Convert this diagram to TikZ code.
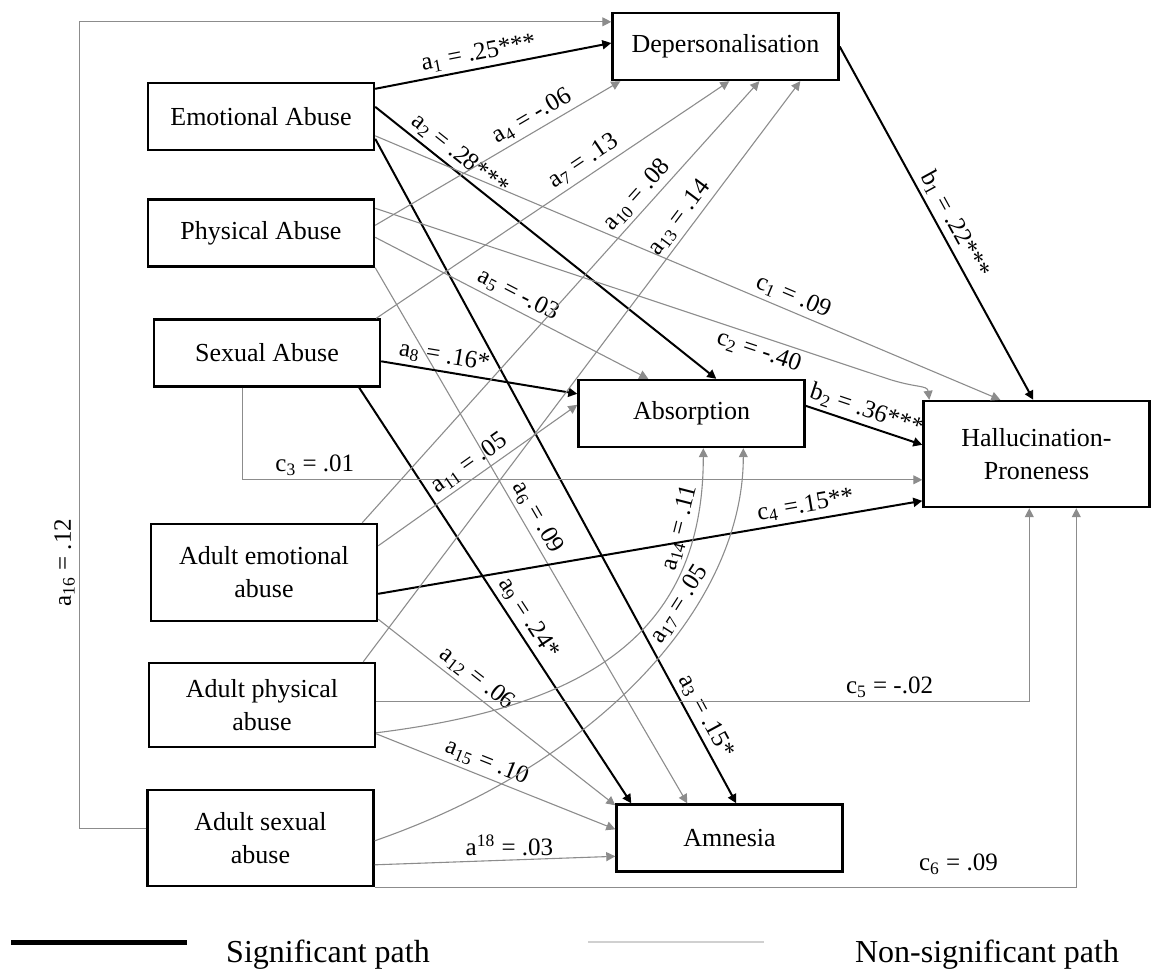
\documentclass[tikz,border=0pt]{standalone}
\usepackage{fontspec}
\setmainfont{Liberation Serif}
\usepackage{xcolor}
\definecolor{cPath}{HTML}{8C8C8C}
\definecolor{cKey} {HTML}{D0D0D0}
\usepackage{tikz}
\usetikzlibrary{arrows.meta, calc}
\tikzset{
  blk/.style  = {rectangle, draw=black, line width=1.2pt,
                 minimum width=#1, minimum height=33.5pt,
                 align=center, inner sep=2pt,
                 font=\fontsize{13}{16.5}\selectfont},
  blk/.default = 113pt,
  sarr/.style = {-{Triangle[length=4.5pt,width=4.5pt]}, line width=1pt, black},
  narr/.style = {-{Triangle[length=4.5pt,width=4.5pt]}, line width=0.55pt, cPath},
  lab/.style  = {font=\fontsize{12.5}{14}\selectfont, text=black, inner sep=2pt},
  key/.style  = {font=\fontsize{16}{19}\selectfont},
}

\begin{document}
\begin{tikzpicture}[x=0.5pt, y=-0.5pt]
  \useasboundingbox (0,0) rectangle (1151,971);

  % predictors
  \node[blk] (emo)  at (261,116.5) {Emotional Abuse};
  \node[blk] (phy)  at (261,233)   {Physical Abuse};
  \node[blk] (sex)  at (267,353)   {Sexual Abuse};
  \node[blk, minimum height=48.5pt] (aemo) at (264,572.5) {Adult emotional\\abuse};
  \node[blk, minimum height=42pt]   (aphy) at (262,705)   {Adult physical\\abuse};
  \node[blk, minimum height=48pt]   (asex) at (260.5,838) {Adult sexual\\abuse};

  % mediators and outcome
  \node[blk] (dep) at (725.5,46.5) {Depersonalisation};
  \node[blk] (abs) at (691.5,413.5) {Absorption};
  \node[blk] (amn) at (729.5,838)  {Amnesia};
  \node[blk, minimum height=53pt] (hal) at (1036.5,454) {Hallucination-\\Proneness};

  % emotional abuse
  \draw[sarr] ($(emo.north east)+(0,7)$) -- node[lab, sloped, above, pos=0.45]
        {a\textsubscript{1} = .25***} ($(dep.west)+(0,-3.5)$);
  \draw[sarr] ($(emo.north east)+(0,25)$) -- node[lab, sloped, above, pos=0.22]
        {a\textsubscript{2} = .28***} ($(abs.north west)+(139,0)$);
  \draw[sarr] ($(emo.north east)+(0,57)$) -- node[lab, sloped, above, pos=0.88]
        {a\textsubscript{3} = .15*} ($(amn.north west)+(121,0)$);
  \draw[narr] ($(emo.north east)+(0,54)$) -- node[lab, sloped, above, pos=0.66]
        {c\textsubscript{1} = .09} ($(hal.north west)+(78,0)$);

  % physical abuse
  \draw[narr] ($(phy.north east)+(0,27)$) -- node[lab, sloped, above, pos=0.67]
        {a\textsubscript{4} = -.06} ($(dep.south west)+(9,0)$);
  \draw[narr] ($(phy.north east)+(0,39)$) -- node[lab, sloped, above, pos=0.5]
        {a\textsubscript{5} = -.03} ($(abs.north west)+(71,0)$);
  \draw[narr] (phy.south east) -- node[lab, sloped, above, pos=0.48]
        {a\textsubscript{6} = .09} ($(amn.north west)+(72,0)$);
  \draw[narr] ($(phy.north east)+(0,10)$) -- node[lab, sloped, below, pos=0.76]
        {c\textsubscript{2} = -.40} ++(511,170)
        .. controls +(30,10) and +(-2,-15) .. ($(hal.north west)+(7,0)$);

  % sexual abuse
  \draw[narr] ($(sex.north east)+(-5,0)$) -- node[lab, sloped, above, pos=0.61]
        {a\textsubscript{7} = .13} ($(dep.south west)+(118,0)$);
  \draw[sarr] ($(sex.north east)+(0,43)$) -- node[lab, sloped, above, pos=0.31]
        {a\textsubscript{8} = .16*} ($(abs.north west)+(0,15)$);
  \draw[sarr] ($(sex.south east)+(-22,0)$) -- node[lab, sloped, above, pos=0.575]
        {a\textsubscript{9} = .24*} ($(amn.north west)+(16,0)$);
  \draw[narr] ($(sex.south west)+(90,0)$) |- node[lab, above, pos=0.553]
        {c\textsubscript{3} = .01} ($(hal.north west)+(0,80)$);

  % adult emotional abuse
  \draw[narr] ($(aemo.north east)+(-16,0)$) -- node[lab, sloped, above, pos=0.72]
        {a\textsubscript{10} = .08} ($(dep.south west)+(148,0)$);
  \draw[narr] ($(aemo.north east)+(0,23)$) -- node[lab, sloped, above, pos=0.5]
        {a\textsubscript{11} = .05} ($(abs.north west)+(0,26)$);
  \draw[narr] ($(aemo.south east)+(0,-3)$) -- node[lab, sloped, above, pos=0.38]
        {a\textsubscript{12} = .06} ($(amn.north west)+(0,2)$);
  \draw[sarr] ($(aemo.north east)+(0,71)$) -- node[lab, sloped, above, pos=0.79]
        {c\textsubscript{4} =.15**} ($(hal.north west)+(0,101)$);

  % adult physical abuse
  \draw[narr] ($(aphy.north east)+(-13,0)$) -- node[lab, sloped, above, pos=0.75]
        {a\textsubscript{13} = .14} ($(dep.south west)+(189,0)$);
  \draw[narr] ($(aphy.north east)+(0,71)$) .. controls +(200,-25) and +(0,193) ..
        node[lab, sloped, above, pos=0.84] {a\textsubscript{14} = .11}
        ($(abs.south west)+(126,0)$);
  \draw[narr] ($(aphy.north east)+(0,72)$) -- node[lab, sloped, above, pos=0.44]
        {a\textsubscript{15} = .10} ($(amn.north west)+(0,26)$);
  \draw[narr] ($(aphy.north east)+(0,40)$) -| node[lab, above, pos=0.393]
        {c\textsubscript{5} = -.02} ($(hal.south west)+(107,0)$);

  % adult sexual abuse
  \draw[narr] ($(asex.north west)+(0,40)$) -- ++(-67,0)
        -- node[lab, sloped, above, pos=0.33] {a\textsubscript{16} = .12} ++(0,-807)
        -- ($(dep.north west)+(0,10)$);
  \draw[narr] ($(asex.north east)+(0,52)$) .. controls +(230,-80) and +(0,153) ..
        node[lab, sloped, above=0pt, pos=0.64] {a\textsubscript{17} = .05}
        ($(abs.south west)+(166,0)$);
  \draw[narr] ($(asex.north east)+(0,76)$) -- node[lab, above, pos=0.56]
        {a\textsuperscript{18} = .03} ($(amn.north west)+(0,53)$);
  \draw[narr] (asex.south east) -| node[lab, above=4pt, pos=0.416]
        {c\textsubscript{6} = .09} ($(hal.south west)+(154,0)$);

  % mediators to outcome
  \draw[sarr] (dep.east) -- node[lab, sloped, above, pos=0.525]
        {b\textsubscript{1} = .22***} ($(hal.north west)+(111,0)$);
  \draw[sarr] ($(abs.north east)+(0,27)$) -- node[lab, sloped, above, pos=0.48]
        {b\textsubscript{2} = .36***} ($(hal.north west)+(0,45)$);

  % key
  \draw[line width=2.5pt] (11,942) -- (187,942);
  \node[key] (ksig) at (328,955) {Significant path};
  \draw[cKey, line width=0.6pt] (588,942) -- (764,942);
  \node[key] (knsig) at (987,955) {Non-significant path};

\end{tikzpicture}
\end{document}
